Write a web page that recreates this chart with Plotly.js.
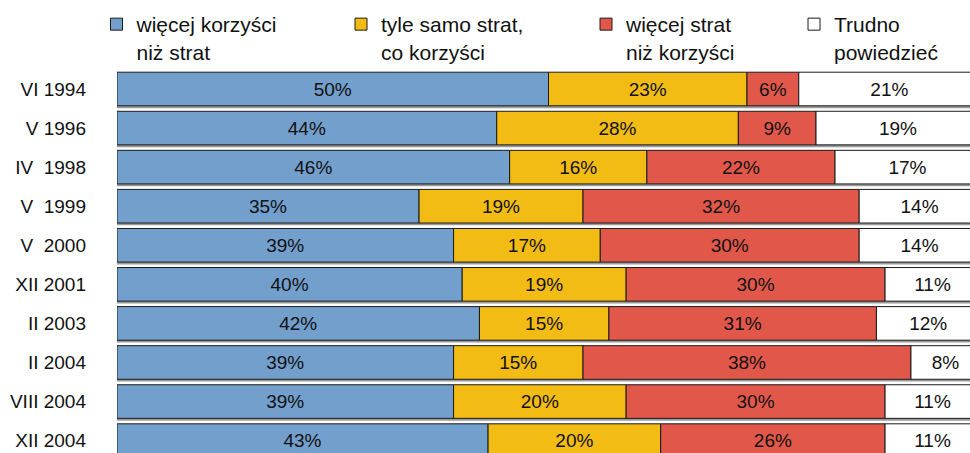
<!DOCTYPE html>
<html>
<head>
<meta charset="utf-8">
<script src="https://cdn.plot.ly/plotly-3.0.1.min.js"></script>
<style>html,body{margin:0;padding:0;background:#fff;}#chart{width:970px;height:453px;}</style>
</head>
<body>
<div id="chart"></div>
<script>
const periods = ['VI 1994','V 1996','IV\u00a0 1998','V\u00a0 1999','V\u00a0 2000','XII 2001','II 2003','II 2004','VIII 2004','XII 2004'];
const moreBenefits = [50, 44, 45.5, 35, 39, 40, 42, 39, 39, 43];
const sameBoth     = [23, 28, 15.9, 19, 17, 19, 15, 15, 20, 20];
const moreLosses   = [6, 9, 21.8, 32, 30, 30, 31, 38, 30, 26];
const hardToSay    = [21, 19, 16.8, 14, 14, 11, 12, 8, 11, 11];
const seriesNames = ['więcej korzyści<br>niż strat', 'tyle samo strat,<br>co korzyści', 'więcej strat<br>niż korzyści', 'Trudno<br>powiedzieć'];
const seriesColors = ['#739fcd', '#f2bc15', '#e1584b', '#ffffff'];

const FONT = 'Liberation Sans, Arial, sans-serif';
const allSeries = [moreBenefits, sameBoth, moreLosses, hardToSay];
const idx = periods.map((_, i) => i);

const traces = [];
// shadow under each full bar
const totals = idx.map(i => allSeries.reduce((s, a) => s + a[i], 0));
traces.push({
  type: 'bar', orientation: 'h', y: idx, x: totals, base: idx.map(() => 0),
  width: 0.86, offset: -0.43 + 0.06,
  marker: {color: '#9a9a9a', line: {width: 0}},
  showlegend: false, hoverinfo: 'skip'
});
const legendIds = ['legend', 'legend2', 'legend3', 'legend4'];
allSeries.forEach((vals, k) => {
  const base = idx.map(i => allSeries.slice(0, k).reduce((s, a) => s + a[i], 0));
  traces.push({
    type: 'bar', orientation: 'h', y: idx, x: vals, base: base,
    width: 0.86, name: seriesNames[k], legend: legendIds[k],
    marker: {color: seriesColors[k], line: {color: '#1a1a1a', width: 1}},
    text: vals.map(v => Math.round(v) + '%'),
    textposition: 'inside', insidetextanchor: 'middle', textangle: 0,
    constraintext: 'none',
    insidetextfont: {family: FONT, size: 19, color: '#111'},
    hoverinfo: 'skip'
  });
});

const plotLeft = 117, plotW = 853, plotTop = 62, plotH = 391;
const legendBoxCenters = [117.5, 362, 607, 815];
const legendBase = {
  orientation: 'v', yanchor: 'top', xanchor: 'left', y: 1 + (plotTop - 4) / plotH,
  font: {family: FONT, size: 21, color: '#111'}, bgcolor: 'rgba(0,0,0,0)',
  borderwidth: 0, valign: 'top', itemclick: false, itemdoubleclick: false
};
const layout = {
  width: 970, height: 453,
  margin: {l: plotLeft, r: 0, t: plotTop, b: 0, pad: 0},
  paper_bgcolor: '#fff', plot_bgcolor: 'rgba(0,0,0,0)',
  barmode: 'overlay', hovermode: false,
  xaxis: {range: [0, plotW / 8.63], showgrid: false, zeroline: false, showticklabels: false, showline: false, ticks: '', fixedrange: true},
  yaxis: {
    range: [9.317, -0.691], tickmode: 'array', tickvals: idx, ticktext: periods,
    showgrid: false, zeroline: false, showline: false, ticks: '', ticklabelstandoff: 30,
    tickfont: {family: FONT, size: 19, color: '#111'}, fixedrange: true
  },
  font: {family: FONT, color: '#111'}
};
legendIds.forEach((id, k) => {
  layout[id] = Object.assign({}, legendBase, {x: (legendBoxCenters[k] - 21 - plotLeft) / plotW});
});

Plotly.newPlot('chart', traces, layout, {displayModeBar: false, staticPlot: true});
</script>
</body>
</html>
